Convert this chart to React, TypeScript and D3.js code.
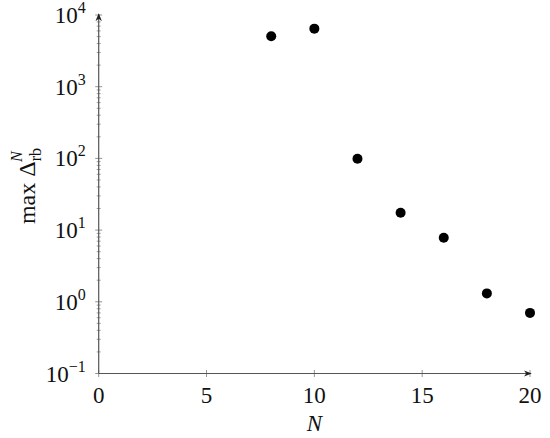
import React from "react";
import * as d3 from "d3";

const nValues = [8, 10, 12, 14, 16, 18, 20];
const maxDelta = [5050, 6450, 99, 17.5, 7.8, 1.31, 0.7];
const xTicks = [0, 5, 10, 15, 20];
const yExponents = [-1, 0, 1, 2, 3, 4];

const W = 550;
const H = 438;
const left = 98.7;
const right = 530;
const top = 15;
const bottom = 373.5;

export default function App() {
  const x = d3.scaleLinear().domain([0, 20]).range([left, right]);
  const y = d3.scaleLog().domain([0.1, 10000]).range([bottom, top]);
  const axisColor = "#555";
  const font = "'Liberation Serif', 'DejaVu Serif', serif";

  const minor: number[] = [];
  for (let e = -1; e < 4; e++) {
    for (let m = 2; m <= 9; m++) minor.push(m * Math.pow(10, e));
  }

  return (
    <svg
      width={W}
      height={H}
      style={{ position: "absolute", left: 0, top: 0, background: "#fff" }}
      fontFamily={font}
    >
      <defs>
        <marker id="arr" viewBox="0 0 10 10" refX="9" refY="5" markerWidth="8" markerHeight="8" orient="auto" markerUnits="userSpaceOnUse">
          <path d="M0,1 L10,5 L0,9 L3,5 Z" fill="#222" />
        </marker>
      </defs>
      {minor.map((v, i) => (
        <line key={"m" + i} x1={left - 2} x2={left + 2} y1={y(v)} y2={y(v)} stroke="#888" strokeWidth={0.8} />
      ))}
      {yExponents.map((e) => (
        <line key={"M" + e} x1={left - 3.5} x2={left + 3.5} y1={y(Math.pow(10, e))} y2={y(Math.pow(10, e))} stroke="#888" strokeWidth={0.9} />
      ))}
      {xTicks.map((t) => (
        <line key={"xt" + t} x1={x(t)} x2={x(t)} y1={bottom - 3.5} y2={bottom + 3.5} stroke="#888" strokeWidth={0.9} />
      ))}
      <line x1={left} x2={left} y1={bottom} y2={top - 1} stroke={axisColor} strokeWidth={1.2} markerEnd="url(#arr)" />
      <line x1={left} x2={right + 1} y1={bottom} y2={bottom} stroke={axisColor} strokeWidth={1.2} markerEnd="url(#arr)" />
      {yExponents.map((e) => (
        <text key={"yl" + e} x={left - 13} y={y(Math.pow(10, e)) + 8} textAnchor="end" fontSize={23} fill="#111">
          10
          <tspan dy={-10} fontSize={16}>{e < 0 ? "\u2212" + Math.abs(e) : String(e)}</tspan>
        </text>
      ))}
      {xTicks.map((t) => (
        <text key={"xl" + t} x={x(t)} y={bottom + 29} textAnchor="middle" fontSize={23} fill="#111">
          {t}
        </text>
      ))}
      <text x={x(10)} y={431} textAnchor="middle" fontSize={23} fontStyle="italic" fill="#111">N</text>
      <text transform={`translate(35,186) rotate(-90)`} textAnchor="middle" fontSize={24} fill="#111">
        max Δ
        <tspan dy={6} fontSize={16}>rb</tspan>
        <tspan dx={-14} dy={-19} fontSize={16} fontStyle="italic">N</tspan>
      </text>
      {nValues.map((n, i) => (
        <circle key={"p" + n} cx={x(n)} cy={y(maxDelta[i])} r={5} fill="#000" />
      ))}
    </svg>
  );
}
